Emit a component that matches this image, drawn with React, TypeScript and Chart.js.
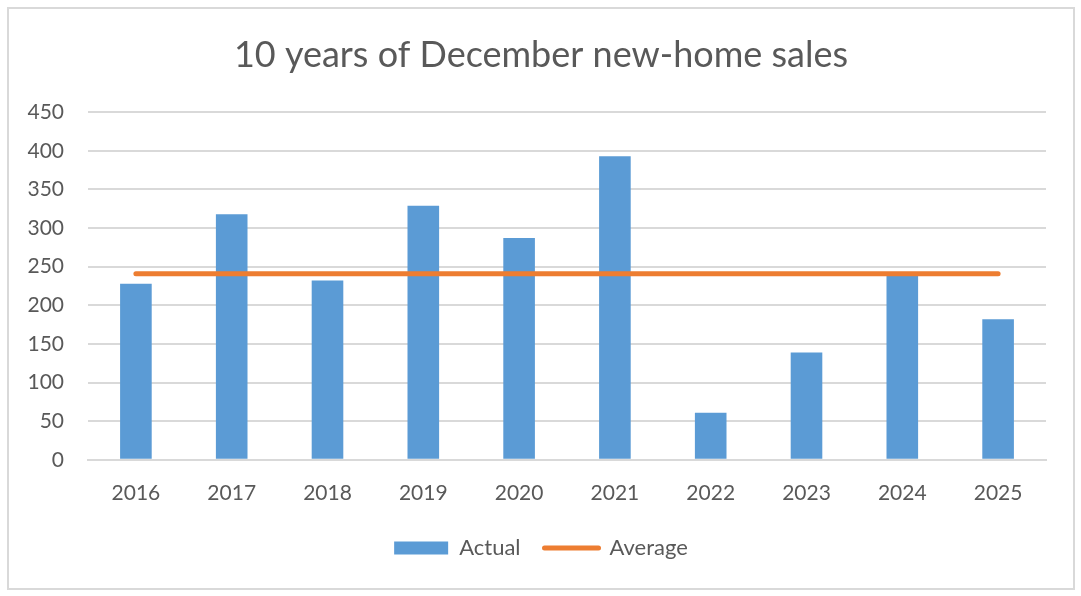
import React, { useEffect, useRef } from "react";
import { Chart, registerables } from "chart.js";

Chart.register(...registerables);

const categories = ["2016", "2017", "2018", "2019", "2020", "2021", "2022", "2023", "2024", "2025"];
const actualValues = [228, 318, 232, 329, 287, 393, 61, 139, 238, 182];
const averageValues = [241, 241, 241, 241, 241, 241, 241, 241, 241, 241];
const titleText = "10 years of December new-home sales";

const BLUE = "#5B9BD5";
const ORANGE = "#ED7D31";
const TEXT = "#595959";
const GRID = "#D9D9D9";
const FONT = "Lato, 'Noto Sans', sans-serif";

export default function App() {
  const ref = useRef<HTMLCanvasElement | null>(null);

  useEffect(() => {
    if (!ref.current) return;
    const chart = new Chart(ref.current, {
      type: "bar",
      data: {
        labels: categories,
        datasets: [
          {
            type: "bar",
            label: "Actual",
            data: actualValues,
            backgroundColor: BLUE,
            borderWidth: 0,
            categoryPercentage: 1,
            barPercentage: 0.33,
            order: 2,
          },
          {
            type: "line",
            label: "Average",
            data: averageValues,
            borderColor: ORANGE,
            backgroundColor: ORANGE,
            borderWidth: 5,
            borderCapStyle: "round",
            pointRadius: 0,
            fill: false,
            order: 1,
          } as any,
        ],
      },
      options: {
        animation: false,
        responsive: true,
        maintainAspectRatio: false,
        layout: { padding: { left: 0, right: 0, top: 0, bottom: 19 } },
        plugins: {
          tooltip: { enabled: false },
          title: {
            display: true,
            text: titleText,
            color: TEXT,
            font: { family: FONT, size: 36, weight: "normal" },
            padding: { top: 25, bottom: 35 },
          },
          legend: {
            position: "bottom",
            labels: {
              color: TEXT,
              font: { family: FONT, size: 22 },
              usePointStyle: true,
              pointStyleWidth: 54,
              boxWidth: 54,
              boxHeight: 13,
              padding: 24,
              generateLabels: () => [
                {
                  text: "Actual",
                  fillStyle: BLUE,
                  strokeStyle: BLUE,
                  lineWidth: 0,
                  pointStyle: "rect",
                  fontColor: TEXT,
                  datasetIndex: 0,
                  hidden: false,
                },
                {
                  text: "Average",
                  fillStyle: ORANGE,
                  strokeStyle: ORANGE,
                  lineWidth: 5,
                  lineCap: "round",
                  pointStyle: "line",
                  fontColor: TEXT,
                  datasetIndex: 1,
                  hidden: false,
                },
              ],
            },
          },
        },
        scales: {
          x: {
            afterFit: (scale: any) => {
              scale.height = scale.height - 14;
            },
            grid: { display: false, drawTicks: false },
            border: { display: true, color: GRID, width: 2 },
            ticks: { color: TEXT, font: { family: FONT, size: 21 }, padding: 21 },
          },
          y: {
            min: 0,
            max: 450,
            afterFit: (scale: any) => {
              scale.width = 79;
            },
            grid: { color: GRID, lineWidth: 2, drawTicks: false },
            border: { display: false },
            ticks: { stepSize: 50, color: TEXT, font: { family: FONT, size: 21 }, padding: 24 },
          },
          yRight: {
            position: "right",
            min: 0,
            max: 450,
            afterFit: (scale: any) => {
              scale.width = 27;
            },
            grid: { display: false, drawTicks: false },
            border: { display: false },
            ticks: { display: false },
          },
        },
      },
    });
    return () => chart.destroy();
  }, []);

  return (
    <div
      style={{
        position: "fixed",
        left: 7,
        top: 7,
        width: 1068,
        height: 583,
        border: "2px solid #D9D9D9",
        boxSizing: "border-box",
        background: "#fff",
      }}
    >
      <canvas ref={ref} style={{ width: "100%", height: "100%" }} />
    </div>
  );
}
